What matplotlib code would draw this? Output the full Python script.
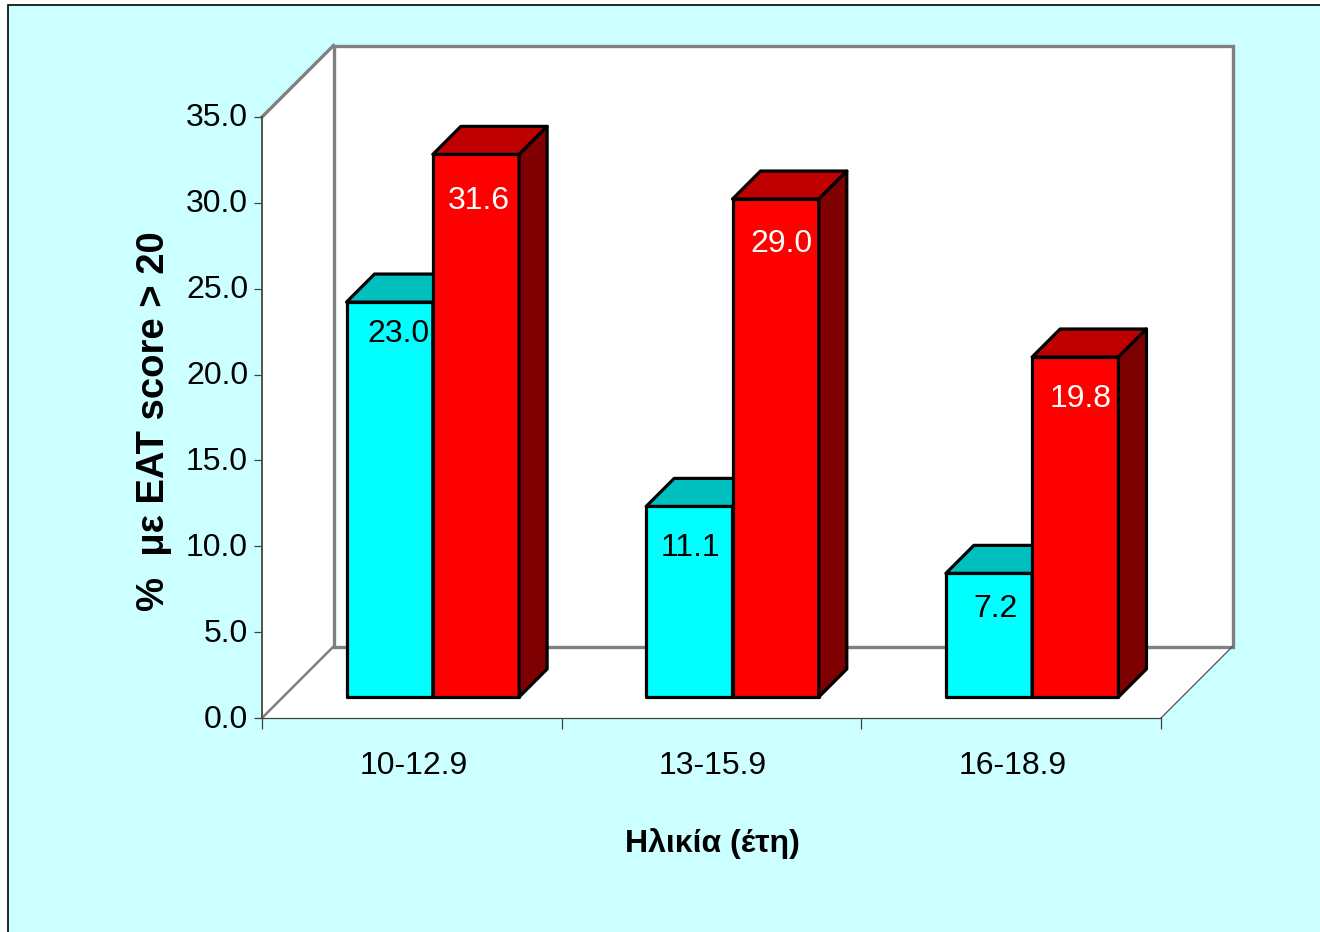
import matplotlib
matplotlib.use("Agg")
import matplotlib.pyplot as plt
from matplotlib.patches import Polygon, Rectangle
from matplotlib.transforms import ScaledTranslation

# values
age_groups = ["10-12.9", "13-15.9", "16-18.9"]
cyan_values = [23.0, 11.1, 7.2]
red_values = [31.6, 29.0, 19.8]
y_ticks = [0, 5, 10, 15, 20, 25, 30, 35]

W, H = 1320, 932
plt.rcParams["font.family"] = ["Liberation Sans", "DejaVu Sans"]

fig = plt.figure(figsize=(W / 100, H / 100), dpi=100, facecolor="white")

# panel with black frame, runs off the right and bottom edge
fig.add_artist(Rectangle((8 / W, 0 - 20 / H), (W + 20) / W, (H + 15) / H,
                         transform=fig.transFigure, facecolor="#CCFFFF",
                         edgecolor="black", linewidth=1.2, zorder=-1))

ax = fig.add_axes([262 / W, 1 - 718 / H, 899 / W, 601 / H])
ax.set_xlim(0, 3)
ax.set_ylim(0, 35)
ax.patch.set_visible(False)

px_x = 899 / 3
px_y = 601 / 35


def depth(x, y, d):
    # slide a point back into the 3d box by d pixels
    return (x + d / px_x, y + d / px_y)


def poly(points, color, edge="none", lw=0, z=1):
    ax.add_patch(Polygon(points, closed=True, facecolor=color, edgecolor=edge,
                         linewidth=lw, zorder=z, clip_on=False, joinstyle="round"))


# box walls and floor
back = 71.5
gray = "#808080"
poly([(0, 0), depth(0, 0, back), depth(0, 35, back), (0, 35)], "white")
poly([(0, 0), (3, 0), depth(3, 0, back), depth(0, 0, back)], "white")
ax.add_patch(Rectangle(depth(0, 0, back), 3, 35, facecolor="white", edgecolor=gray,
                       linewidth=2.4, zorder=1.5, clip_on=False))
ax.plot(*zip((0, 35), depth(0, 35, back)), color=gray, lw=2.4, zorder=1.5, clip_on=False)
ax.plot(*zip((0, 0), depth(0, 0, back)), color=gray, lw=1.8, zorder=1.5, clip_on=False)
ax.plot(*zip((3, 0), depth(3, 0, back)), color="#505050", lw=0.9, zorder=1.5, clip_on=False)

# bars
bar_w = 0.288
front = 21
deep = 49


def bar3d(x0, value, face, top, side, z):
    x1 = x0 + bar_w
    lw = 2.3
    poly([depth(x0, 0, front), depth(x1, 0, front), depth(x1, value, front), depth(x0, value, front)],
         face, "black", lw, z)
    poly([depth(x0, value, front), depth(x1, value, front), depth(x1, value, deep), depth(x0, value, deep)],
         top, "black", lw, z)
    poly([depth(x1, 0, front), depth(x1, 0, deep), depth(x1, value, deep), depth(x1, value, front)],
         side, "black", lw, z)


# nudges of the value labels, pixels from the top centre of the bar front
cyan_nudge = [(9, -32), (1, -42), (7, -36)]
red_nudge = [(3, -47), (6, -45), (5, -42)]
for i, group in enumerate(age_groups):
    left = i + 0.5 - bar_w
    bar3d(left, cyan_values[i], "#00FFFF", "#00BFBF", "#007F7F", 2)
    bar3d(left + bar_w, red_values[i], "#FF0000", "#BF0000", "#7F0000", 3)
    ax.annotate(f"{cyan_values[i]:.1f}", depth(left + bar_w / 2, cyan_values[i], front),
                xytext=(cyan_nudge[i][0] * 0.72, cyan_nudge[i][1] * 0.72), textcoords="offset points",
                ha="center", va="center", fontsize=23, color="black", zorder=5)
    ax.annotate(f"{red_values[i]:.1f}", depth(left + 1.5 * bar_w, red_values[i], front),
                xytext=(red_nudge[i][0] * 0.72, red_nudge[i][1] * 0.72), textcoords="offset points",
                ha="center", va="center", fontsize=23, color="white", zorder=5)

# axes
for s in ["top", "right"]:
    ax.spines[s].set_visible(False)
ax.spines["left"].set_color("#505050")
ax.spines["left"].set_linewidth(1.4)
ax.spines["left"].set_zorder(4)
ax.spines["bottom"].set_color("#404040")
ax.spines["bottom"].set_linewidth(0.9)
ax.spines["bottom"].set_zorder(4)

ax.set_yticks(y_ticks)
ax.set_yticklabels([f"{v:.1f}" for v in y_ticks], fontsize=23)
ax.tick_params(axis="y", length=6, width=0.9, color="#404040", pad=4)
lift = ScaledTranslation(0, 2 / 100, fig.dpi_scale_trans)
for t in ax.get_yticklabels():
    t.set_transform(t.get_transform() + lift)
ax.set_xticks([0, 1, 2, 3])
ax.set_xticklabels([])
ax.tick_params(axis="x", which="major", length=8, width=0.9, color="#404040")
ax.set_xticks([0.505, 1.505, 2.505], minor=True)
ax.set_xticklabels(age_groups, minor=True, fontsize=23)
ax.tick_params(axis="x", which="minor", length=0, pad=24)

fig.text(712 / W, 1 - 844 / H, "Ηλικία (έτη)", fontsize=23, fontweight="bold",
         ha="center", va="center")
fig.text(154 / W, 1 - 421 / H, "%  με EAT score > 20", fontsize=27.5, fontweight="bold",
         rotation=90, ha="center", va="center")

fig.savefig("out.png", dpi=100, facecolor=fig.get_facecolor())
